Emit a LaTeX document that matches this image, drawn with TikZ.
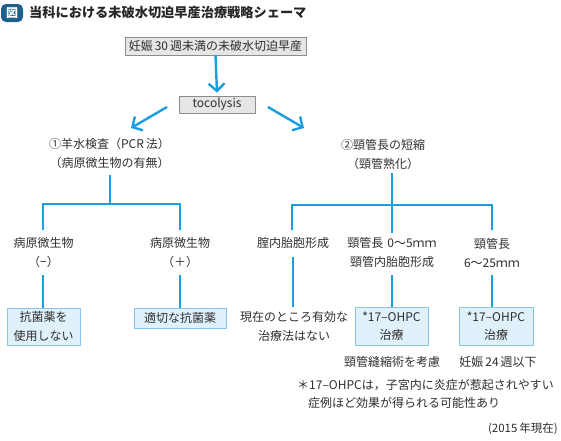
\documentclass[tikz,border=0pt]{standalone}
\usepackage{fontspec}
\setmainfont{Noto Sans CJK JP}
\usetikzlibrary{arrows.meta}
\definecolor{lnblue}{HTML}{1A9EE0}
\definecolor{boxfill}{HTML}{E0F1FB}
\definecolor{boxline}{HTML}{86C6EC}
\definecolor{grayfill}{HTML}{E6E6E6}
\definecolor{grayline}{HTML}{8C8C8C}
\definecolor{txt}{HTML}{2E2E2E}
\definecolor{badge}{HTML}{1E5F8C}
\begin{document}
\begin{tikzpicture}[x=1pt,y=-1pt,
  font=\fontsize{12}{19}\selectfont, text=txt,
  lbl/.style={align=center, inner sep=0pt},
  graybox/.style={draw=grayline, fill=grayfill, line width=0.8pt, inner sep=0pt, align=center},
  bluebox/.style={draw=boxline, fill=boxfill, line width=0.8pt, inner sep=0pt, align=center},
  conn/.style={draw=lnblue, line width=2.6pt},
  arr/.style={draw=lnblue, line width=2.4pt, -{Straight Barb[length=7.5pt,width=16pt,line width=2.4pt]}}]
\useasboundingbox (0,0) rectangle (561,440);

% title
\node[fill=badge, rounded corners=5pt, minimum width=22pt, minimum height=18pt, inner sep=0pt,
      text=white, font=\fontsize{12}{12}\selectfont\bfseries] (badge) at (12,13) {図};
\node[anchor=west, inner sep=0pt, font=\fontsize{13.2}{14}\selectfont\bfseries, text=black!85] (title) at (29,13)
  {当科における未破水切迫早産治療戦略シェーマ};

% top
\node[graybox, minimum width=181pt, minimum height=18pt] (top) at (215.5,46) {妊娠\,30\,週未満の未破水切迫早産};
\node[graybox, minimum width=76pt, minimum height=17pt] (toco) at (217,104.5) {tocolysis};
\draw[arr] (top.south) -- ([yshift=3pt]toco.north);

\coordinate (aL1) at (167,107);
\coordinate (aL2) at (131,128);
\coordinate (aR1) at (268,107);
\coordinate (aR2) at (304,128);
\draw[arr] (aL1) -- (aL2);
\draw[arr] (aR1) -- (aR2);

% left branch
\node[lbl] (q1) at (109.5,153.5) {①羊水検査（PCR\,法）\\（病原微生物の有無）};
\node[lbl] (neg) at (43.5,253) {病原微生物\\（−）};
\node[lbl] (pos) at (180,253) {病原微生物\\（＋）};
\node[bluebox, minimum width=73pt, minimum height=37pt, font=\fontsize{12}{18.5}\selectfont] (b1) at (43.5,326.5) {抗菌薬を\\使用しない};
\node[bluebox, minimum width=92pt, minimum height=20pt] (b2) at (180,318) {適切な抗菌薬};

\coordinate (q1b) at (110,175);
\coordinate (jl) at (110,204);
\coordinate (negt) at (43,230);
\coordinate (post) at (180,230);
\coordinate (negb) at (43,275);
\coordinate (posb) at (180,275);
\draw[conn] (q1b) -- (jl);
\draw[conn] (negt) |- (jl) -| (post);
\draw[conn] (negb) -- (negb |- b1.north);
\draw[conn] (posb) -- (posb |- b2.north);

% right branch
\node[lbl] (q2) at (383,154) {②頸管長の短縮\\（頸管熟化）};
\node[lbl] (c1) at (293,243) {腟内胎胞形成};
\node[lbl] (c2) at (392,252.5) {頸管長\,\,0～5ｍｍ\\頸管内胎胞形成};
\node[lbl] (c3) at (492,252.5) {頸管長\\6～25ｍｍ};
\node[lbl] (r1) at (294,326.5) {現在のところ有効な\\治療法はない};
\node[bluebox, minimum width=73pt, minimum height=38pt, font=\fontsize{12}{18.5}\selectfont] (b3) at (391.5,326) {*17–OHPC\\治療};
\node[bluebox, minimum width=74pt, minimum height=38pt, font=\fontsize{12}{18.5}\selectfont] (b4) at (496,326) {*17–OHPC\\治療};
\node[lbl] (n1) at (392,362) {頸管縫縮術を考慮};
\node[lbl] (n2) at (498,362) {妊娠\,24\,週以下};

\coordinate (q2b) at (392,173);
\coordinate (jr) at (392,205);
\coordinate (c1t) at (292,230);
\coordinate (c2t) at (392,233);
\coordinate (c3t) at (492,230);
\coordinate (c1b) at (293,257);
\coordinate (c1e) at (293,307);
\coordinate (c2b) at (392,275);
\coordinate (c3b) at (492,275);
\draw[conn] (q2b) -- (c2t);
\draw[conn] (c1t) |- (jr) -| (c3t);
\draw[conn] (c1b) -- (c1e);
\draw[conn] (c2b) -- (c2b |- b3.north);
\draw[conn] (c3b) -- (c3b |- b4.north);

% note
\node[anchor=west, inner sep=0pt] (note1) at (297,385) {＊17–OHPCは，子宮内に炎症が惹起されやすい};
\node[anchor=west, inner sep=0pt] (note2) at (308,403) {症例ほど効果が得られる可能性あり};
\node[anchor=east, inner sep=0pt, font=\fontsize{11.5}{13}\selectfont] (date) at (558,429) {(2015\,年現在)};
\end{tikzpicture}
\end{document}
